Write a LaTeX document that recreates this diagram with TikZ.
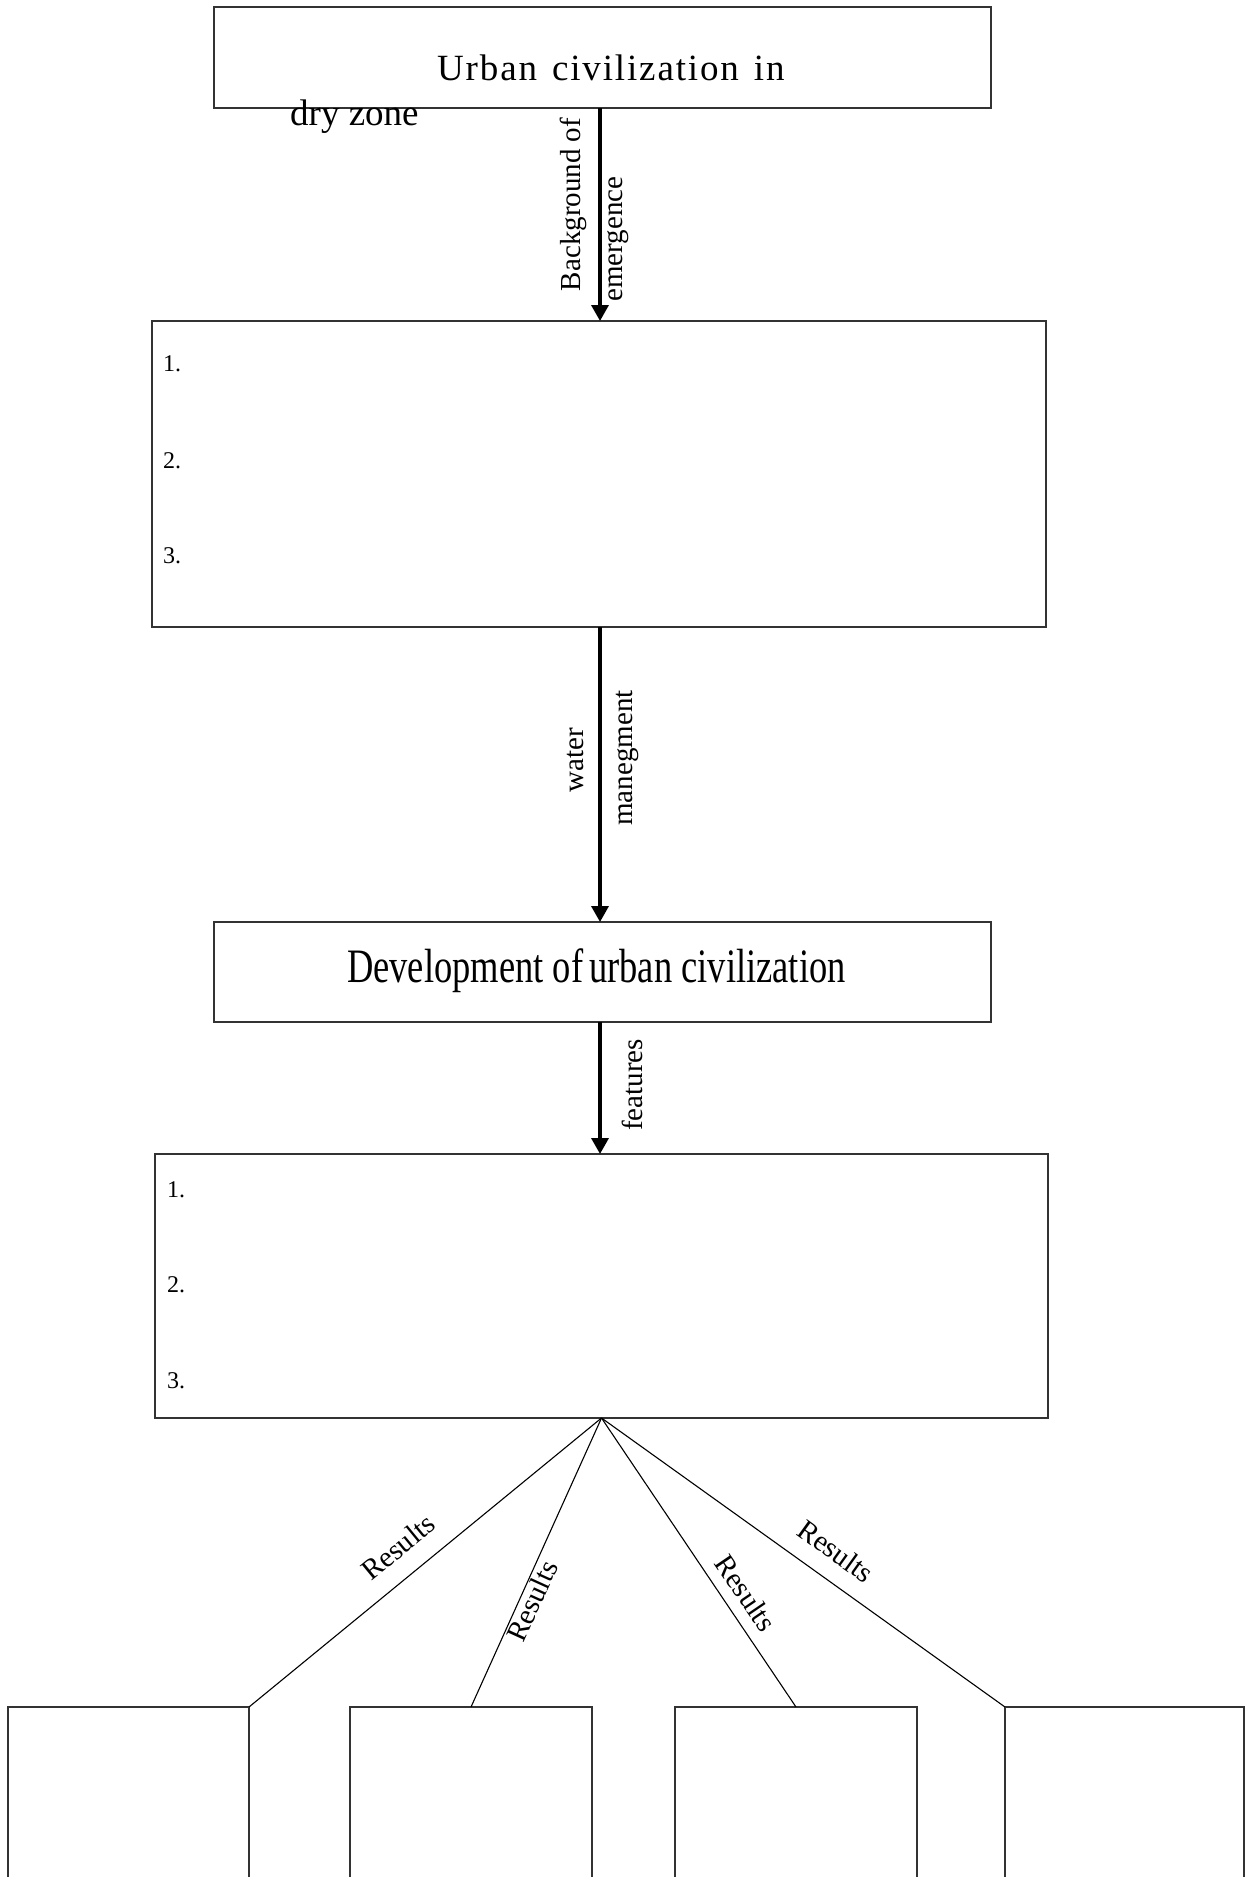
\documentclass[tikz,border=0pt]{standalone}
\usepackage{fontspec}
\setmainfont{Liberation Serif}
\newfontfamily\spacedfont[LetterSpace=5,WordSpace=1.35]{Liberation Serif}
\usepackage{graphicx}
\usetikzlibrary{arrows.meta}
\begin{document}
\begin{tikzpicture}[x=1pt,y=-1pt]
\tikzset{
  box/.style={draw=black!80, line width=1.8pt, inner sep=0pt, outer sep=0pt},
  arr/.style={line width=3.5pt, -{Triangle[width=17pt,length=16pt]}},
  fan/.style={line width=1.1pt},
  lab/.style={font=\fontsize{29}{31}\selectfont, inner sep=0pt, anchor=base},
  res/.style={font=\fontsize{29}{31}\selectfont, inner sep=0pt},
  num/.style={font=\fontsize{24}{26}\selectfont, inner sep=0pt, anchor=base west},
  big/.style={font=\fontsize{37}{40}\selectfont, inner sep=0pt, anchor=base west},
}
\fill[white] (0,0) rectangle (1248,1877);
\useasboundingbox (0,0) rectangle (1248,1877);

% boxes
\node[box, minimum width=777pt, minimum height=101pt] (b1) at (602.5,57.5) {};
\node[box, minimum width=894pt, minimum height=306pt] (b2) at (599,474) {};
\node[box, minimum width=777pt, minimum height=100pt] (b3) at (602.5,972) {};
\node[box, minimum width=893pt, minimum height=264pt] (b4) at (601.5,1286) {};
\node[box, minimum width=241pt, minimum height=193pt] (r1) at (128.5,1803.5) {};
\node[box, minimum width=242pt, minimum height=193pt] (r2) at (471,1803.5) {};
\node[box, minimum width=242pt, minimum height=193pt] (r3) at (796,1803.5) {};
\node[box, minimum width=239pt, minimum height=193pt] (r4) at (1124.5,1803.5) {};

% texts
\node[big, font=\spacedfont\fontsize{37}{40}\selectfont] (t1) at (437,80) {Urban civilization in};
\node[big] (t2) at (290,125) {dry zone};
\node[inner sep=0pt, anchor=base west, font=\fontsize{48}{50}\selectfont] (t3) at (347,982)
  {\scalebox{0.76}[1]{Development of\hspace{8pt}urban civilization}};

\node[num] (n1) at (163,371) {1.};
\node[num] (n2) at (163,468) {2.};
\node[num] (n3) at (163,563) {3.};
\node[num] (m1) at (167,1197) {1.};
\node[num] (m2) at (167,1292) {2.};
\node[num] (m3) at (167,1388) {3.};

% arrows
\coordinate (ax) at (600,0);
\draw[arr] (b1.south -| ax) -- (b2.north -| ax);
\draw[arr] (b2.south -| ax) -- (b3.north -| ax);
\draw[arr] (b3.south -| ax) -- (b4.north -| ax);

\node[lab, rotate=90] (l1) at (580,204.5) {Background of};
\node[lab, rotate=90] (l2) at (622,239) {emergence};
\node[lab, rotate=90] (l3) at (583,760) {water};
\node[lab, rotate=90] (l4) at (632,758) {manegment};
\node[lab, rotate=90] (l5) at (642,1085) {features};

% fan
\draw[fan] (b4.south) -- (r1.north east);
\draw[fan] (b4.south) -- (r2.north);
\draw[fan] (b4.south) -- (r3.north);
\draw[fan] (b4.south) -- (r4.north west);

\node[res, rotate=39.4] (q1) at (398,1547) {Results};
\node[res, rotate=65.5] (q2) at (532,1601) {Results};
\node[res, rotate=-55.8] (q3) at (746,1593) {Results};
\node[res, rotate=-35.7] (q4) at (836,1551) {Results};
\end{tikzpicture}
\end{document}
